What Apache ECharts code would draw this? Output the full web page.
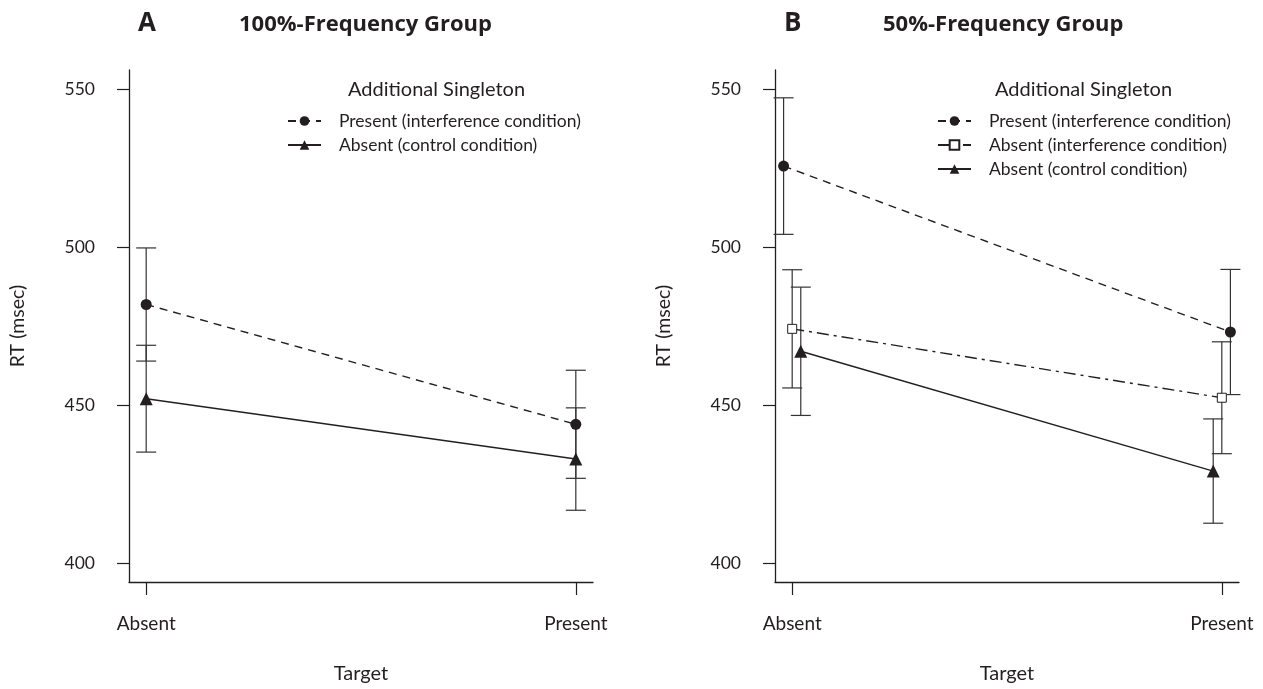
<!DOCTYPE html>
<html>
<head>
<meta charset="utf-8">
<script src="https://cdn.jsdelivr.net/npm/echarts@6/dist/echarts.min.js"></script>
<style>
  html, body { margin: 0; padding: 0; background: #fff; }
  #chart { width: 1263px; height: 689px; }
</style>
</head>
<body>
<div id="chart"></div>
<script>
// x categories and y ticks
const targets = ['Absent', 'Present'];
const rtTicks = [400, 450, 500, 550];

// A: 100%-frequency group (means and error half-widths, msec)
const aPresentInt = [481.8, 443.9];
const aPresentIntErr = [17.9, 17.1];
const aAbsentCtrl = [452.0, 432.9];
const aAbsentCtrlErr = [16.9, 16.2];

// B: 50%-frequency group
const bPresentInt = [525.6, 473.1];
const bPresentIntErr = [21.6, 19.8];
const bAbsentInt = [474.1, 452.3];
const bAbsentIntErr = [18.7, 17.7];
const bAbsentCtrl = [467.0, 429.1];
const bAbsentCtrlErr = [20.3, 16.5];

const INK = '#231f20';
const FONT = 'Lato';
const NAME_PI = 'Present (interference condition)';
const NAME_AI = 'Absent (interference condition)';
const NAME_AC = 'Absent (control condition)';

// small horizontal dodge used in panel B
function pts(vals, dodge) {
  return vals.map((v, i) => [i + 1 + (dodge ? dodge[i] : 0), v]);
}
function bars(vals, errs, dodge) {
  return vals.map((v, i) => [i + 1 + (dodge ? dodge[i] : 0), v - errs[i], v + errs[i]]);
}

function renderErr(params, api) {
  const x = api.value(0);
  const lo = api.coord([x, api.value(1)]);
  const hi = api.coord([x, api.value(2)]);
  const hw = 10;
  const st = { stroke: '#333', lineWidth: 1.2 };
  return {
    type: 'group',
    children: [
      { type: 'line', shape: { x1: hi[0], y1: hi[1], x2: lo[0], y2: lo[1] }, style: st },
      { type: 'line', shape: { x1: hi[0] - hw, y1: hi[1], x2: hi[0] + hw, y2: hi[1] }, style: st },
      { type: 'line', shape: { x1: lo[0] - hw, y1: lo[1], x2: lo[0] + hw, y2: lo[1] }, style: st }
    ]
  };
}

function xAx(gi) {
  return {
    type: 'value', gridIndex: gi, min: 0.96, max: 2.04,
    axisLine: { show: true, lineStyle: { color: INK, width: 1.3 } },
    axisTick: { show: true, length: 13, customValues: [1, 2], lineStyle: { color: INK, width: 1.2 } },
    axisLabel: { customValues: [1, 2], margin: 32, fontSize: 19, color: INK, fontFamily: FONT,
      formatter: v => targets[Math.round(v) - 1] },
    splitLine: { show: false },
    name: 'Target', nameLocation: 'middle', nameGap: 82,
    nameTextStyle: { fontSize: 20, color: INK, fontFamily: FONT }
  };
}
function yAx(gi) {
  return {
    type: 'value', gridIndex: gi, min: 394, max: 556,
    axisLine: { show: true, lineStyle: { color: INK, width: 1.3 } },
    axisTick: { show: true, length: 12, customValues: rtTicks, lineStyle: { color: INK, width: 1.2 } },
    axisLabel: { customValues: rtTicks, margin: 34, fontSize: 17.5, color: INK, fontFamily: FONT },
    splitLine: { show: false },
    name: 'RT (msec)', nameLocation: 'middle', nameGap: 101,
    nameTextStyle: { fontSize: 19.5, color: INK, fontFamily: FONT }
  };
}

function lineSeries(name, gi, data, symbol, dash, hollow) {
  return {
    name: name, type: 'line', xAxisIndex: gi, yAxisIndex: gi, data: data,
    symbol: symbol, symbolSize: symbol === 'triangle' ? 13 : (hollow ? 9 : 11),
    lineStyle: { color: INK, width: 1.4, type: dash },
    itemStyle: hollow ? { color: '#fff', borderColor: INK, borderWidth: 1 } : { color: INK },
    z: 3
  };
}
function errSeries(gi, data) {
  return {
    type: 'custom', xAxisIndex: gi, yAxisIndex: gi, data: data,
    renderItem: renderErr, encode: { x: 0, y: [1, 2] }, z: 2, silent: true
  };
}

const dash = [8, 6];
const dashDot = [12, 5, 3, 5];
const dodgeCircle = [-0.02, 0.02];
const dodgeTri = [0.02, -0.02];

const legendCommon = {
  orient: 'vertical', itemWidth: 33, itemHeight: 12, itemGap: 6,
  selectedMode: false,
  textStyle: { fontSize: 17.5, color: INK, fontFamily: FONT, padding: [0, 0, 0, 13] }
};
const titleFont = { fontSize: 22, fontWeight: 'bold', color: INK, fontFamily: 'Open Sans' };
const letterFont = { fontSize: 26, fontWeight: 'bold', color: INK, fontFamily: 'Open Sans' };

const option = {
  animation: false,
  backgroundColor: '#fff',
  textStyle: { fontFamily: FONT },
  title: [
    { text: 'A', left: 133, top: 6, textStyle: letterFont },
    { text: '100%-Frequency Group', left: 234, top: 9, textStyle: titleFont },
    { text: 'B', left: 779, top: 6, textStyle: letterFont },
    { text: '50%-Frequency Group', left: 878, top: 9, textStyle: titleFont },
    { text: 'Additional Singleton', left: 343, top: 75, textStyle: { fontSize: 20, fontWeight: 'normal', color: INK, fontFamily: FONT } },
    { text: 'Additional Singleton', left: 990, top: 75, textStyle: { fontSize: 20, fontWeight: 'normal', color: INK, fontFamily: FONT } }
  ],
  legend: [
    Object.assign({ left: 282, top: 107, data: [NAME_PI, NAME_AC] }, legendCommon),
    Object.assign({ left: 932, top: 107, data: [NAME_PI, NAME_AI, NAME_AC] }, legendCommon)
  ],
  grid: [
    { left: 129, top: 70, width: 464, height: 513 },
    { left: 775, top: 70, width: 464, height: 513 }
  ],
  xAxis: [xAx(0), xAx(1)],
  yAxis: [yAx(0), yAx(1)],
  series: [
    errSeries(0, bars(aPresentInt, aPresentIntErr)),
    errSeries(0, bars(aAbsentCtrl, aAbsentCtrlErr)),
    lineSeries(NAME_PI, 0, pts(aPresentInt), 'circle', dash, false),
    lineSeries(NAME_AC, 0, pts(aAbsentCtrl), 'triangle', 'solid', false),

    errSeries(1, bars(bPresentInt, bPresentIntErr, dodgeCircle)),
    errSeries(1, bars(bAbsentInt, bAbsentIntErr)),
    errSeries(1, bars(bAbsentCtrl, bAbsentCtrlErr, dodgeTri)),
    lineSeries(NAME_PI, 1, pts(bPresentInt, dodgeCircle), 'circle', dash, false),
    lineSeries(NAME_AI, 1, pts(bAbsentInt), 'rect', dashDot, true),
    lineSeries(NAME_AC, 1, pts(bAbsentCtrl, dodgeTri), 'triangle', 'solid', false)
  ]
};

const chart = echarts.init(document.getElementById('chart'));
chart.setOption(option);
window.addEventListener('resize', function () { chart.resize(); });
</script>
</body>
</html>
